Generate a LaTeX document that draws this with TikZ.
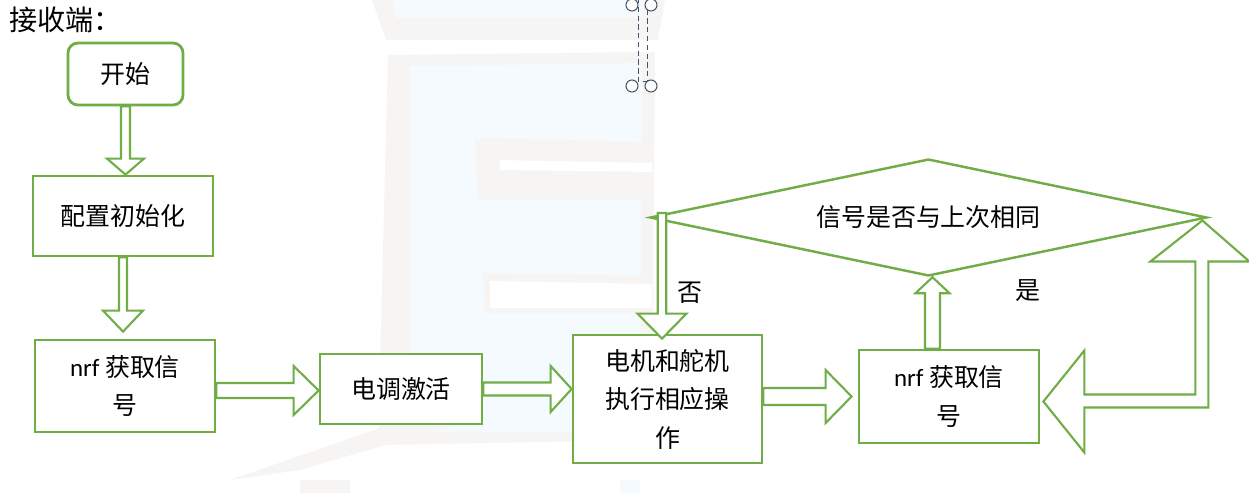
\documentclass[tikz,border=0pt]{standalone}
\usepackage{fontspec}
\usepackage{tikz}
\usetikzlibrary{shapes.geometric}
\usetikzlibrary{calc}
\newfontfamily\cjk{Noto Sans CJK SC}
\newfontfamily\latn{Carlito}
\definecolor{boxgreen}{RGB}{112,173,71}
\definecolor{wmgray}{RGB}{247,244,244}
\definecolor{wmblue}{RGB}{244,250,253}
\definecolor{selgray}{RGB}{68,84,106}

\tikzset{
  fatarr/.style n args={3}{draw=boxgreen, line width=1.2pt, fill=white, line join=miter, to path={
    let \p1=(\tikztostart), \p2=(\tikztotarget),
        \n1={atan2(\y2-\y1,\x2-\x1)}, \n2={veclen(\x2-\x1,\y2-\y1)} in
    ([shift={(\p1)},rotate=\n1]0pt,#1) -- ([shift={(\p1)},rotate=\n1]\n2-#3,#1)
    -- ([shift={(\p1)},rotate=\n1]\n2-#3,#2) -- (\p2)
    -- ([shift={(\p1)},rotate=\n1]\n2-#3,-#2) -- ([shift={(\p1)},rotate=\n1]\n2-#3,-#1)
    -- ([shift={(\p1)},rotate=\n1]0pt,-#1) -- cycle}}
}

\begin{document}
\begin{tikzpicture}[x=0.02cm, y=-0.02cm,
    box/.style={draw=boxgreen, line width=1.6pt, fill=white, align=center, inner sep=2pt,
      font=\cjk\fontsize{14.2}{21.9}\selectfont},
    decision/.style={draw=boxgreen, line width=1.4pt, shape=diamond, aspect=4.76,
      minimum width=11.14cm, minimum height=2.34cm, inner sep=0pt,
      font=\cjk\fontsize{14.2}{21.9}\selectfont},
    lbl/.style={font=\cjk\fontsize{14.2}{21.9}\selectfont}]

    \useasboundingbox (0,0) rectangle (1249,493);
    \fill[white] (0,0) rectangle (1249,493);

    % faint watermark
    \fill[wmgray] (372,0) -- (665,0) -- (658,40) -- (386,40) -- cycle;
    \fill[wmblue] (392,0) -- (645,0) -- (642,18) -- (395,18) -- cycle;
    \fill[wmgray] (388,55) -- (655,52) -- (652,440) -- (378,445) -- cycle;
    \fill[wmblue] (410,66) -- (642,63) -- (640,432) -- (410,432) -- cycle;
    \fill[wmgray] (475,138) -- (652,142) -- (652,200) -- (478,200) -- cycle;
    \fill[white] (500,160) -- (652,163) -- (652,172) -- (500,170) -- cycle;
    \fill[wmblue] (498,200) -- (640,200) -- (640,272) -- (498,272) -- cycle;
    \fill[wmgray] (483,273) -- (652,276) -- (652,313) -- (485,313) -- cycle;
    \fill[white] (490,281) -- (652,284) -- (652,308) -- (490,308) -- cycle;
    \fill[wmgray] (230,480) -- (380,428) -- (470,420) -- (300,470) -- cycle;
    \fill[wmgray] (300,480) rectangle (350,493);
    \fill[wmblue] (620,480) rectangle (640,493);

    % text box handles
    \draw[selgray, densely dashed, line width=0.5pt] (638,-2) -- (638,81) -- (647,81) -- (647,-2);
    \foreach \hx in {632,651}
      \foreach \hy in {5,86}
        \draw[selgray, fill=white, line width=0.6pt] (\hx,\hy) circle (0.12cm);

    \node[anchor=west, font=\cjk\fontsize{16}{20}\selectfont] (title) at (3,20) {接收端：};

    \node[box, rounded corners=0.2cm, minimum width=2.3cm, minimum height=1.24cm] (start) at (125.5,74) {开始};
    \node[box, minimum width=3.6cm, minimum height=1.6cm] (init) at (123,216) {配置初始化};
    \node[box, minimum width=3.6cm, minimum height=1.84cm] (nrf1) at (125,386) {{\latn nrf} 获取信\\号};
    \node[box, minimum width=3.24cm, minimum height=1.4cm] (esc) at (401,389) {电调激活};
    \node[box, minimum width=3.78cm, minimum height=2.56cm] (act) at (667.5,399) {电机和舵机\\执行相应操\\作};
    \node[box, minimum width=3.6cm, minimum height=1.86cm] (nrf2) at (949,396.5) {{\latn nrf} 获取信\\号};
    \node[decision] (dec) at (928.5,217.5) {信号是否与上次相同};

    \node[lbl] (no) at (690,293) {否};
    \node[lbl] (yes) at (1028,291) {是};

    \draw[fatarr={0.09cm}{0.37cm}{0.32cm}] (start.south) to (start.south |- init.north);
    \draw[fatarr={0.08cm}{0.4cm}{0.42cm}] (init.south) to ([yshift=0.14cm]init.south |- nrf1.north);
    \draw[fatarr={0.15cm}{0.49cm}{0.5cm}] ([yshift=-0.03cm]nrf1.east |- esc.west) to ([yshift=-0.03cm]esc.west);
    \draw[fatarr={0.13cm}{0.46cm}{0.42cm}] (esc.east) to (act.west |- esc.east);
    \draw[fatarr={0.17cm}{0.53cm}{0.52cm}] (act.east |- nrf2.west) to ([xshift=-0.12cm]nrf2.west);
    \draw[fatarr={0.15cm}{0.34cm}{0.32cm}] ([xshift=0.08cm]dec.south |- nrf2.north) to ([xshift=0.08cm]dec.south);
    \draw[fatarr={0.085cm}{0.49cm}{0.5cm}] ([xshift=-0.11cm,yshift=0.09cm]act.north |- dec.west) to ([xshift=-0.11cm,yshift=-0.1cm]act.north);

    \draw[draw=boxgreen, line width=1.2pt, fill=white, line join=miter] (nrf2.east) ++(3,5)
      -- ++(41,-51) -- ++(0,44) -- ++(111,0) -- ++(0,-133) -- ++(-45,0) -- ++(52,-41)
      -- ++(47,41) -- ++(-41,0) -- ++(0,146) -- ++(-124,0) -- ++(0,45) -- cycle;
\end{tikzpicture}
\end{document}
